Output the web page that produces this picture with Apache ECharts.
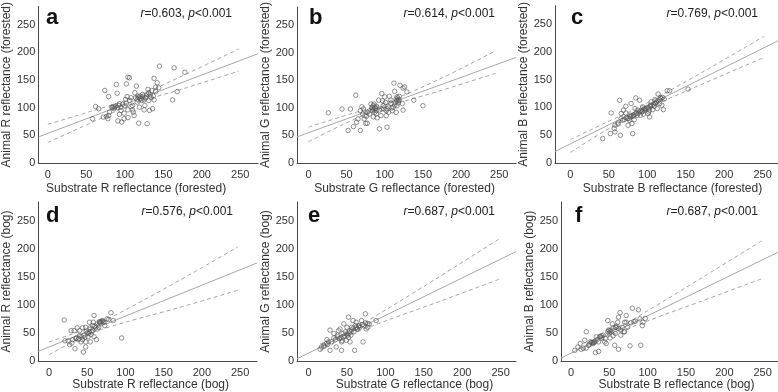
<!DOCTYPE html>
<html>
<head>
<meta charset="utf-8">
<script src="https://cdn.jsdelivr.net/npm/echarts@6/dist/echarts.min.js"></script>
<style>
  html, body { margin: 0; background: #fff; }
  #chart { width: 778px; height: 392px; }
</style>
</head>
<body>
<div id="chart"></div>
<script>
// ---- data ----
const panelLetters = ["a", "b", "c", "d", "e", "f"];
const rValues = ["0.603", "0.614", "0.769", "0.576", "0.687", "0.687"];
const xNames = [
  "Substrate R reflectance (forested)",
  "Substrate G reflectance (forested)",
  "Substrate B reflectance (forested)",
  "Substrate R reflectance (bog)",
  "Substrate G reflectance (bog)",
  "Substrate B reflectance (bog)"
];
const yNames = [
  "Animal R reflectance (forested)",
  "Animal G reflectance (forested)",
  "Animal B reflectance (forested)",
  "Animal R reflectance (bog)",
  "Animal G reflectance (bog)",
  "Animal B reflectance (bog)"
];
const xTicks = [0, 50, 100, 150, 200, 250];
const yTicks = [0, 50, 100, 150, 200, 250];

const pointsA = [
  [58, 80], [62, 102], [66, 98], [74, 131], [72, 83], [78, 80], [79, 120], [79, 86], [83, 101], [85, 102],
  [87, 101], [89, 142], [90, 126], [91, 76], [93, 107], [95, 95], [96, 74], [99, 80], [101, 115], [102, 143],
  [104, 82], [104, 155], [106, 154], [108, 102], [108, 118], [110, 96], [112, 86], [113, 127], [115, 139], [116, 110],
  [117, 121], [118, 72], [119, 101], [120, 117], [122, 113], [123, 124], [125, 96], [126, 104], [128, 121], [130, 133],
  [131, 113], [129, 71], [132, 95], [133, 123], [135, 131], [136, 98], [138, 114], [138, 153], [140, 137], [142, 145],
  [145, 175], [164, 172], [162, 114], [168, 129], [178, 164],
  [84, 100], [86, 98], [88, 103], [90, 100], [92, 104], [95, 101], [97, 106], [100, 103], [102, 108], [104, 96],
  [106, 113], [110, 104], [114, 118], [116, 115], [118, 119], [120, 121], [121, 116], [123, 119], [125, 114], [127, 118],
  [129, 124], [131, 127], [134, 118], [137, 121], [140, 129], [144, 136], [103, 120], [111, 92], [99, 90], [93, 88],
  [80, 92], [76, 84]
];
const pointsB = [
  [26, 91], [44, 98], [52, 59], [55, 98], [62, 123], [59, 66], [63, 74], [65, 80], [68, 59], [68, 95],
  [70, 102], [71, 89], [72, 98], [74, 86], [75, 72], [77, 72], [77, 92], [80, 89], [82, 107], [83, 101],
  [84, 95], [85, 84], [86, 107], [87, 101], [89, 95], [89, 89], [90, 82], [92, 114], [93, 62], [95, 86],
  [96, 126], [97, 113], [99, 98], [100, 120], [102, 86], [102, 95], [103, 65], [105, 102], [106, 121], [108, 108],
  [110, 95], [111, 101], [112, 145], [113, 130], [115, 92], [116, 113], [116, 120], [118, 113], [119, 121], [120, 141],
  [124, 136], [126, 138], [129, 129], [124, 96], [138, 114], [150, 104],
  [84, 100], [85, 104], [86, 97], [87, 92], [88, 99], [89, 103], [113, 105], [114, 110], [115, 116], [116, 104],
  [117, 118], [118, 109], [119, 115], [96, 98], [98, 104], [101, 110], [103, 98], [105, 92], [108, 114], [109, 100],
  [93, 96], [79, 94], [76, 85], [73, 80], [123, 108]
];
const pointsC = [
  [42, 44], [52, 53], [53, 90], [57, 62], [58, 56], [62, 72], [64, 113], [65, 50], [66, 89], [68, 77],
  [69, 95], [72, 102], [74, 80], [75, 68], [77, 77], [78, 86], [79, 107], [80, 71], [81, 53], [82, 86],
  [83, 78], [85, 117], [87, 86], [88, 95], [90, 113], [91, 86], [93, 92], [94, 101], [96, 95], [98, 98],
  [101, 89], [103, 83], [103, 95], [104, 102], [105, 110], [107, 96], [109, 102], [110, 114], [111, 107], [113, 98],
  [114, 124], [116, 107], [117, 118], [119, 104], [120, 118], [121, 96], [122, 115], [126, 130], [129, 130], [153, 133],
  [70, 78], [73, 82], [76, 80], [78, 83], [80, 85], [82, 84], [84, 88], [86, 90], [88, 89], [90, 92],
  [92, 95], [94, 93], [96, 98], [98, 96], [100, 100], [102, 99], [104, 104], [106, 103], [108, 106], [110, 108],
  [112, 110], [114, 112], [116, 114], [118, 116], [72, 90], [66, 80], [62, 70], [58, 68], [84, 98], [95, 88],
  [102, 92]
];
const pointsD = [
  [20, 73], [21, 36], [27, 29], [29, 54], [31, 38], [33, 54], [34, 22], [36, 41], [37, 59], [39, 40],
  [40, 54], [42, 34], [43, 43], [44, 59], [45, 16], [46, 46], [48, 25], [48, 34], [49, 53], [51, 43],
  [52, 49], [53, 69], [54, 34], [54, 59], [55, 47], [56, 52], [57, 63], [58, 69], [59, 81], [59, 43],
  [61, 59], [62, 38], [63, 66], [65, 60], [66, 70], [66, 69], [68, 70], [70, 72], [72, 69], [73, 63],
  [76, 75], [78, 74], [81, 86], [84, 72], [95, 41],
  [44, 38], [47, 42], [50, 50], [53, 52], [57, 55], [60, 62], [63, 57], [67, 68], [69, 71], [71, 70],
  [40, 45], [38, 38], [35, 40], [30, 32], [25, 36], [48, 60]
];
const pointsE = [
  [15, 21], [17, 25], [20, 28], [23, 31], [24, 38], [26, 34], [28, 19], [28, 55], [30, 34], [33, 49],
  [33, 41], [36, 25], [38, 43], [39, 54], [40, 40], [41, 57], [43, 19], [43, 34], [45, 49], [46, 66],
  [46, 43], [48, 52], [49, 37], [50, 60], [51, 46], [52, 78], [53, 53], [54, 34], [55, 46], [56, 60],
  [58, 72], [59, 52], [60, 19], [61, 63], [62, 69], [63, 57], [65, 62], [67, 60], [69, 72], [71, 34],
  [72, 63], [74, 84], [75, 57], [77, 66], [79, 66], [88, 72],
  [20, 26], [25, 30], [35, 38], [42, 41], [47, 45], [50, 48], [53, 50], [56, 55], [58, 58], [62, 60],
  [64, 57], [66, 63], [70, 65], [74, 68], [77, 60], [52, 42], [44, 36], [38, 46]
];
const pointsF = [
  [5, 19], [9, 25], [12, 31], [13, 21], [16, 23], [18, 37], [20, 52], [23, 28], [25, 34], [27, 33],
  [29, 31], [30, 34], [32, 15], [33, 43], [36, 17], [36, 34], [38, 43], [40, 41], [42, 46], [44, 34],
  [46, 31], [48, 72], [49, 55], [50, 50], [51, 41], [52, 52], [54, 66], [55, 59], [57, 28], [58, 49],
  [59, 60], [61, 69], [62, 21], [62, 78], [64, 86], [65, 46], [67, 60], [69, 52], [70, 69], [72, 81],
  [74, 60], [77, 27], [80, 94], [82, 70], [88, 91], [91, 28], [93, 63], [94, 69], [97, 76],
  [20, 23], [24, 30], [28, 32], [30, 33], [31, 35], [34, 38], [38, 44], [40, 45], [48, 52], [50, 54],
  [52, 55], [58, 60], [60, 62], [62, 58], [65, 55], [70, 52], [72, 69], [78, 68], [84, 71], [90, 75],
  [55, 45], [45, 40]
];

// regression lines and 95% bands
const fitA = [[-12.5, 47], [273, 197.5]];
const upperA = [[0, 70], [55, 93], [110, 117], [180, 161], [248, 206]];
const lowerA = [[0, 37], [55, 72], [110, 106], [180, 136], [248, 166]];
const fitB = [[-15, 47.4], [272, 191.5]];
const upperB = [[0, 65], [50, 87], [95, 106], [170, 151], [246, 204]];
const lowerB = [[0, 38.5], [50, 73], [95, 99], [170, 130], [246, 163]];
const fitC = [[-20, 20.7], [270, 219.9]];
const upperC = [[0, 42], [45, 72], [90, 101], [170, 162], [252, 228]];
const lowerC = [[0, 19], [45, 58], [90, 92], [170, 141], [252, 190]];
const fitD = [[-14, 17.2], [272, 174.5]];
const upperD = [[0, 34], [52, 59], [100, 91], [170, 143], [247, 203]];
const lowerD = [[0, 11], [52, 48], [100, 69], [170, 95], [247, 126]];
const fitE = [[-15, 4.1], [270, 194.7]];
const upperE = [[15, 30.7], [48, 49.2], [100, 90.8], [170, 149.8], [249, 218]];
const lowerE = [[15, 17.5], [48, 43.2], [100, 71.2], [170, 105.8], [249, 146]];
const fitF = [[-13, 5.3], [270, 193.5]];
const upperF = [[15, 30.5], [50, 50.1], [100, 89.4], [170, 147.6], [250, 215]];
const lowerF = [[15, 17.3], [50, 44.1], [100, 71.4], [170, 106.4], [250, 147]];

const points = [pointsA, pointsB, pointsC, pointsD, pointsE, pointsF];
const fits = [fitA, fitB, fitC, fitD, fitE, fitF];
const uppers = [upperA, upperB, upperC, upperD, upperE, upperF];
const lowers = [lowerA, lowerB, lowerC, lowerD, lowerE, lowerF];

// ---- layout ----
const font = "'Liberation Sans', Arial, sans-serif";
const axisColor = "#4a4a4a";
const lineColor = "#a8a8a8";
const panels = [
  { left: 36, width: 222, top: 4, height: 159, xMin: -12.5, xMax: 273, nameGap: 20, shift: -12, letterX: 46, noteRight: 546 },
  { left: 297, width: 219, top: 4, height: 159, xMin: -15, xMax: 272, nameGap: 20, shift: -2, letterX: 309, noteRight: 283 },
  { left: 555, width: 223, top: 4, height: 159, xMin: -20, xMax: 270, nameGap: 20, shift: 6, letterX: 571, noteRight: 20 },
  { left: 35, width: 222, top: 202, height: 159, xMin: -14, xMax: 272, nameGap: 13, shift: 3, letterX: 46, noteRight: 545 },
  { left: 297, width: 219, top: 202, height: 159, xMin: -15, xMax: 270, nameGap: 13, shift: 8, letterX: 308, noteRight: 283 },
  { left: 561, width: 217, top: 202, height: 159, xMin: -13, xMax: 270, nameGap: 13, shift: 7, letterX: 575, noteRight: 20 }
];

const chart = echarts.init(document.getElementById("chart"));

const grid = [], xAxis = [], yAxis = [], series = [], title = [];
panels.forEach((p, i) => {
  grid.push({ left: p.left, top: p.top, width: p.width, height: p.height });
  xAxis.push({
    type: "value", gridIndex: i, min: p.xMin, max: p.xMax,
    name: xNames[i], nameLocation: "middle", nameGap: p.nameGap,
    nameTextStyle: {
      fontFamily: font, fontSize: 12, color: "#333",
      padding: p.shift > 0 ? [0, 0, 0, 2 * p.shift] : [0, -2 * p.shift, 0, 0]
    },
    axisLine: { onZero: false, lineStyle: { color: axisColor, width: 1 } },
    axisTick: { show: false },
    splitLine: { show: false },
    axisLabel: { customValues: xTicks, fontFamily: font, fontSize: 11, color: "#333", margin: 6 }
  });
  yAxis.push({
    type: "value", gridIndex: i, min: 0, max: 283,
    name: yNames[i], nameLocation: "middle", nameGap: 22,
    nameTextStyle: { fontFamily: font, fontSize: 12, color: "#333" },
    axisLine: { show: true, onZero: false, lineStyle: { color: axisColor, width: 1 } },
    axisTick: { show: false },
    splitLine: { show: false },
    axisLabel: { customValues: yTicks, fontFamily: font, fontSize: 11, color: "#333", margin: 3 }
  });
  const bandStyle = { color: lineColor, width: 1, type: [4, 3] };
  series.push(
    {
      type: "line", xAxisIndex: i, yAxisIndex: i, data: fits[i], symbol: "none", silent: true,
      lineStyle: { color: lineColor, width: 1 }, z: 1
    },
    {
      type: "line", xAxisIndex: i, yAxisIndex: i, data: uppers[i], symbol: "none", smooth: 0.3, silent: true,
      lineStyle: bandStyle, z: 1
    },
    {
      type: "line", xAxisIndex: i, yAxisIndex: i, data: lowers[i], symbol: "none", smooth: 0.3, silent: true,
      lineStyle: bandStyle, z: 1
    },
    {
      type: "scatter", xAxisIndex: i, yAxisIndex: i, data: points[i], symbol: "circle", symbolSize: 4.5,
      itemStyle: { color: "rgba(0,0,0,0)", borderColor: "#555", borderWidth: 0.8 }, z: 2
    }
  );
  title.push(
    {
      text: panelLetters[i], left: p.letterX, top: p.top + 3, padding: 0,
      textStyle: { fontFamily: font, fontSize: 22, fontWeight: "bold", color: "#111" }
    },
    {
      text: "{i|r}=" + rValues[i] + ", {i|p}<0.001", right: p.noteRight, top: p.top + 4, padding: 0,
      textStyle: {
        fontFamily: font, fontSize: 12, fontWeight: "normal", color: "#222",
        rich: { i: { fontFamily: font, fontSize: 12, fontStyle: "italic", color: "#222" } }
      }
    }
  );
});

chart.setOption({
  backgroundColor: "#fff",
  animation: false,
  title,
  grid,
  xAxis,
  yAxis,
  series
});
</script>
</body>
</html>
